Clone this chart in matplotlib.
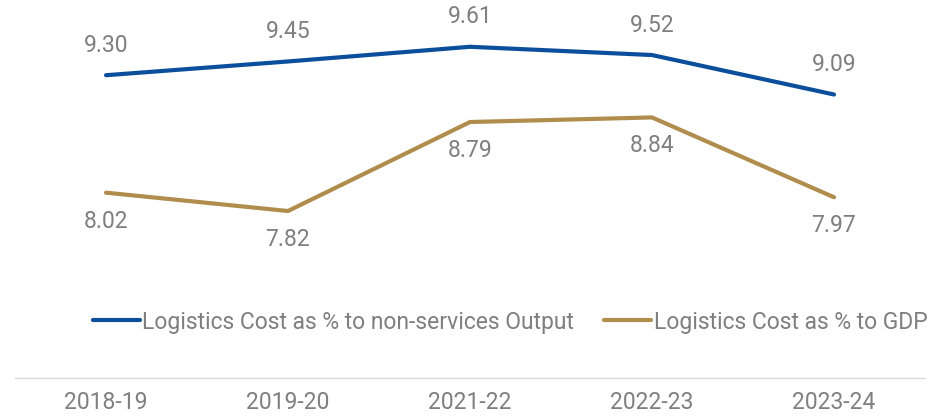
import matplotlib.pyplot as plt

plt.rcParams['font.family'] = ['Roboto', 'DejaVu Sans']

# chart data
years = ["2018-19", "2019-20", "2021-22", "2022-23", "2023-24"]
non_services = [9.30, 9.45, 9.61, 9.52, 9.09]
gdp = [8.02, 7.82, 8.79, 8.84, 7.97]

blue = "#0b4f9c"
gold = "#b08d4c"
grey = "#7f7f7f"
fs = 16.5

fig = plt.figure(figsize=(9.43, 4.17), dpi=100)
ax = fig.add_axes([15 / 943, 1 - 378 / 417, 910 / 943, 367 / 417])

x = list(range(len(years)))
ax.plot(x, non_services, color=blue, lw=3, solid_capstyle="round",
        label="Logistics Cost as % to non-services Output")
ax.plot(x, gdp, color=gold, lw=3, solid_capstyle="round",
        label="Logistics Cost as % to GDP")

# data labels: blue above, gold below
for i, v in enumerate(non_services):
    ax.annotate(f"{v:.2f}", (i, v), xytext=(0, 21.5), textcoords="offset points",
                ha="center", va="center", fontsize=fs, color=grey)
for i, v in enumerate(gdp):
    ax.annotate(f"{v:.2f}", (i, v), xytext=(0, -20.5), textcoords="offset points",
                ha="center", va="center", fontsize=fs, color=grey)

ax.set_xlim(-0.5, len(years) - 0.5)
ax.set_ylim(6, 10)
ax.set_xticks(x)
ax.set_xticklabels(years, fontsize=fs, color=grey)
ax.tick_params(axis="x", length=0, pad=9.5)
ax.set_yticks([])
for side in ["top", "left", "right"]:
    ax.spines[side].set_visible(False)
ax.spines["bottom"].set_color("#d9d9d9")
ax.spines["bottom"].set_linewidth(1)

leg = fig.legend(loc="center", bbox_to_anchor=(510 / 943, 1 - 322 / 417), ncol=2,
                 frameon=False, fontsize=fs, handlelength=2.05, handletextpad=0.12,
                 columnspacing=1.3, borderaxespad=0)
for t in leg.get_texts():
    t.set_color(grey)

fig.savefig("out.png", dpi=100)
